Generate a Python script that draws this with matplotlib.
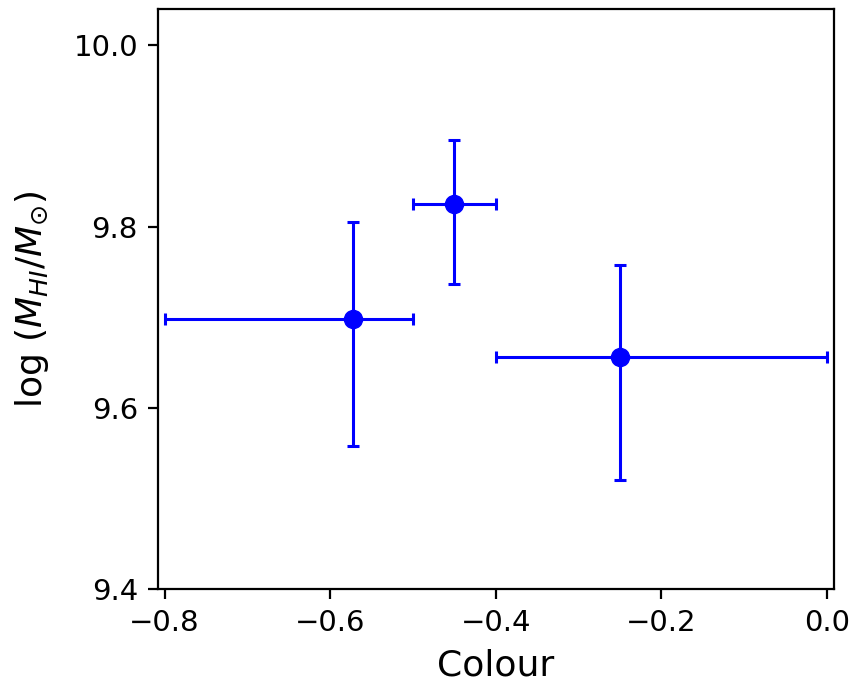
import matplotlib
matplotlib.use("Agg")
import matplotlib.pyplot as plt
import numpy as np

# Data
colour = [-0.572, -0.45, -0.25]
log_mhi = [9.698, 9.825, 9.656]
x_lo = [-0.80, -0.50, -0.40]
x_hi = [-0.50, -0.40, 0.00]
y_lo = [9.558, 9.737, 9.521]
y_hi = [9.805, 9.896, 9.758]

xerr = [np.array(colour) - np.array(x_lo), np.array(x_hi) - np.array(colour)]
yerr = [np.array(log_mhi) - np.array(y_lo), np.array(y_hi) - np.array(log_mhi)]

fig = plt.figure(figsize=(8.52, 6.88), dpi=100)
ax = fig.add_axes([0.1854, 0.1435, 0.9792 - 0.1854, 0.9869 - 0.1435])

ax.errorbar(colour, log_mhi, xerr=xerr, yerr=yerr, fmt='o', color='blue',
            ecolor='blue', markersize=13, elinewidth=2.2, capsize=4.5,
            capthick=2.2)

ax.set_xlim(-0.808, 0.009)
ax.set_ylim(9.4, 10.04)
ax.set_xticks([-0.8, -0.6, -0.4, -0.2, 0.0])
ax.set_yticks([9.4, 9.6, 9.8, 10.0])

ax.tick_params(labelsize=21, length=7.2, width=1.6, pad=7.2)
for s in ax.spines.values():
    s.set_linewidth(1.6)

ax.set_xlabel('Colour', fontsize=26, labelpad=8)
ax.set_ylabel(r'log ($M_{HI}/M_{\odot}$)', fontsize=26, labelpad=16)

fig.savefig('out.png', dpi=100)
